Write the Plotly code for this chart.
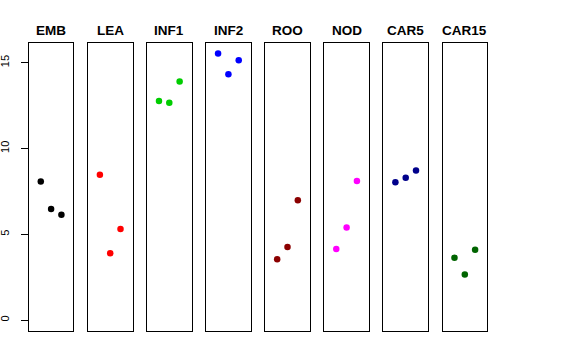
import plotly.graph_objects as go

# ---- data ----
categories = ["EMB", "LEA", "INF1", "INF2", "ROO", "NOD", "CAR5", "CAR15"]
replicates = [1, 2, 3]
emb = [8.07, 6.47, 6.14]
lea = [8.47, 3.89, 5.31]
inf1 = [12.77, 12.67, 13.90]
inf2 = [15.53, 14.32, 15.14]
roo = [3.54, 4.26, 6.98]
nod = [4.14, 5.40, 8.10]
car5 = [8.03, 8.30, 8.71]
car15 = [3.63, 2.66, 4.10]
series = [emb, lea, inf1, inf2, roo, nod, car5, car15]
colors = ["#000000", "#FF0000", "#00CD00", "#0000FF", "#8B0000", "#FF00FF", "#00008B", "#006400"]
y_ticks = [0, 5, 10, 15]

W, H = 576, 360
fig = go.Figure()

panel_left0 = 28.8
panel_step = 59.1
panel_width = 44.6
y_top_px = 43.3
y_bot_px = 331.0
y_range = [-0.64, 16.13]
x_range = [-0.16, 4.16]

for i, (cat, vals, col) in enumerate(zip(categories, series, colors)):
    n = "" if i == 0 else str(i + 1)
    x0 = panel_left0 + i * panel_step
    x1 = x0 + panel_width
    fig.add_trace(go.Scatter(
        x=replicates, y=vals, mode="markers",
        marker=dict(color=col, size=6.5, line=dict(width=0)),
        xaxis="x" + n, yaxis="y" + n, showlegend=False, hoverinfo="y"))
    xa = dict(domain=[x0 / W, x1 / W], range=x_range, showgrid=False, zeroline=False,
              showticklabels=False, ticks="", showline=True, mirror=True, automargin=False,
              linecolor="black", linewidth=1, anchor="y" + n, fixedrange=True)
    ya = dict(domain=[1 - y_bot_px / H, 1 - y_top_px / H], range=y_range, showgrid=False,
              zeroline=False, showline=True, mirror=True, linecolor="black", linewidth=1,
              anchor="x" + n, fixedrange=True, automargin=False)
    if i == 0:
        ya.update(tickmode="array", tickvals=y_ticks, ticktext=[str(t) for t in y_ticks],
                  ticks="outside", ticklen=7, tickcolor="black", tickwidth=1,
                  ticklabelstandoff=7,
                  tickangle=-90, tickfont=dict(family="Liberation Sans, Arial", size=11, color="black"))
    else:
        ya.update(showticklabels=False, ticks="")
    fig.update_layout(**{"xaxis" + n: xa, "yaxis" + n: ya})
    fig.add_annotation(x=(x0 + x1) / 2 / W, y=1 - 30.2 / H, xref="paper", yref="paper",
                       text="<b>" + cat + "</b>", showarrow=False,
                       font=dict(family="Liberation Sans, Arial", size=13.5, color="black"),
                       xanchor="center", yanchor="middle")

fig.update_layout(template="none", width=W, height=H, margin=dict(l=0, r=0, t=0, b=0, pad=0),
                  paper_bgcolor="white", plot_bgcolor="white")
fig.write_html("out.html", config={"displayModeBar": False},
               post_script="document.body.style.margin='0px';document.body.style.padding='0px';")
